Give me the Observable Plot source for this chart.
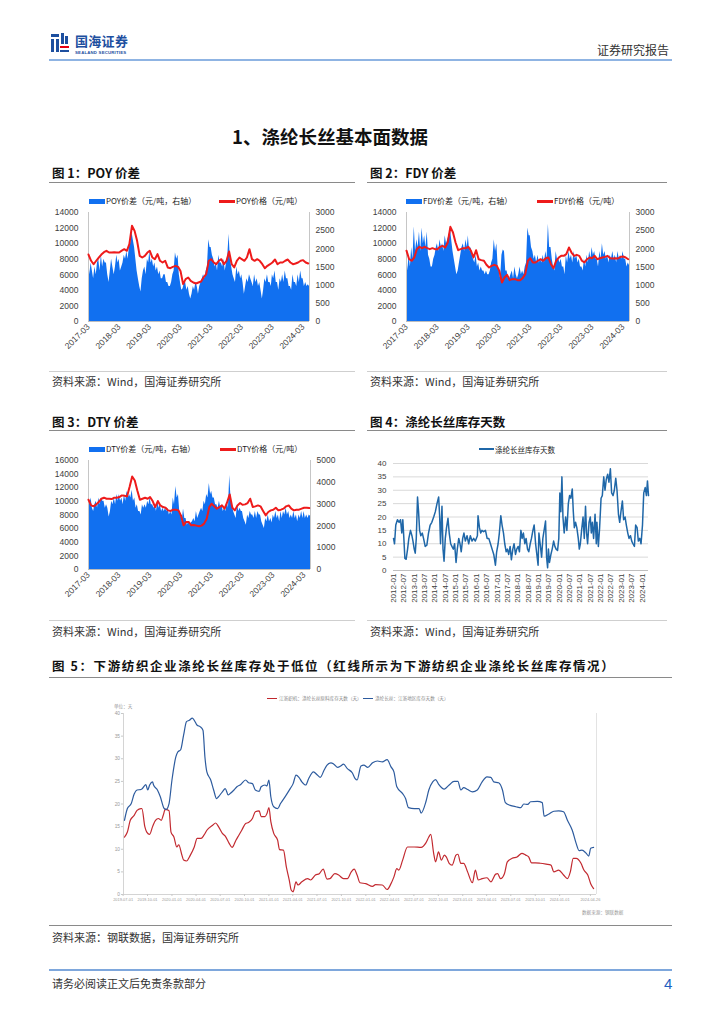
<!DOCTYPE html>
<html lang="zh-CN">
<head>
<meta charset="utf-8">
<script src="https://cdn.jsdelivr.net/npm/d3@7"></script>
<script src="https://cdn.jsdelivr.net/npm/@observablehq/plot@0.6"></script>
<style>
html,body{margin:0;padding:0;background:#fff;}
body{width:724px;height:1024px;position:relative;overflow:hidden;font-family:"Noto Sans CJK SC","Noto Sans",sans-serif;color:#222;}
.a{position:absolute;white-space:nowrap;line-height:1;}
.h{font-weight:700;font-size:12.5px;color:#111;}
.src{font-size:11px;color:#333;}
.box{position:absolute;}
.chart{position:absolute;}
</style>
</head>
<body>
<script>
// ================= DATA =================
const monthStart = "2017-03", monthEnd = "2024-05";
// POY spread, right axis (yuan/t), two readings per month
const poySpread = [
1930,1290, 1610,1390, 1180,1500, 1290,1610, 1710,1390, 1820,1500, 1710,1610, 1610,1290, 1070,1390, 1710,1500,
1290,1500, 1820,1610, 1710,1390, 1500,1610, 1820,1710, 1930,1710, 2040,2140, 2460,2250, 2040,1710, 1390,1180, 960,810, 1180,1390,
1500,1290, 1710,1610, 1930,1610, 1710,1500, 1610,1390, 1500,1290, 1390,1180, 1180,1290, 1290,1070, 1070,960, 960,1070, 1290,1390,
1890,1710, 1820,1290, 1070,860, 900,1070, 1070,860, 960,750, 620,750, 960,860, 1070,960, 750,960, 1070,1180, 1290,1180,
1390,1500, 2250,2040, 2040,1820, 1710,1500, 1610,1390, 1820,1610, 1610,1500, 1710,1390, 1610,1820, 2400,1710, 1500,1290, 1180,1070,
1500,1290, 1390,1180, 1290,1070, 750,960, 1180,1070, 1290,1180, 1070,960, 1290,1070, 1180,960, 1070,860, 620,860, 1180,1070,
1290,1070, 1070,960, 1290,1180, 1390,1070, 1070,860, 1180,1070, 1290,1070, 1390,1180, 1180,960, 960,860, 1290,1070, 1070,960,
1290,1070, 1390,1180, 1180,960, 1070,960, 1010,960
];
// POY price, left axis (yuan/t), monthly
const poyPrice = [
8600,7800,7350,7800,8200,8600,8900,9080,8860,8860,
8900,8860,8860,9100,9290,9080,9930,12290,11640,10360,8430,8220,
8430,8860,9080,8220,8000,8650,7800,7580,7800,6940,6850,7020,
7150,7020,6500,4800,5440,5650,5220,5010,4880,5010,5140,5650,
6080,7800,8000,7580,7360,7800,8000,7360,7800,8990,7360,6940,
7800,8220,8000,7800,8220,9290,8000,7800,8000,7800,7360,6850,
7150,7360,7580,7960,7360,7580,7580,7800,7960,7580,7360,7450,
7580,7800,7880,7580,7450
];
const fdySpread = [
2040,1390, 1820,1500, 2040,1710, 2610,1930, 2250,2040, 2460,1930, 2570,2140, 2360,2040, 2460,1820, 1710,1500,
1500,1710, 1820,2040, 2140,1930, 2250,2040, 2140,1930, 2360,2140, 2250,2360, 2570,2250, 1930,1710, 1500,1290, 1390,1610, 1820,2040,
2140,1930, 2250,2040, 2360,1930, 2040,1820, 1710,1610, 1820,1500, 1610,1390, 1500,1390, 1390,1290, 1390,1290, 1290,1390, 1610,1710,
2250,1930, 2140,1500, 1390,1180, 1820,1970, 1930,1390, 1390,1180, 1180,1290, 1390,1180, 1500,1290, 1180,1290, 1500,1290, 1390,1290,
1500,1610, 2570,2360, 2360,2040, 1930,1710, 1820,1610, 1820,1610, 1710,1610, 1820,1610, 1930,1710, 2680,2040, 2040,1710, 1500,1390,
1930,1710, 1710,1610, 1710,1500, 1500,1290, 1820,1610, 1930,1710, 1820,1610, 1930,1710, 1820,1610, 1710,1500, 1500,1390, 1710,1500,
1820,1610, 1930,1710, 2040,1820, 1930,1710, 1710,1500, 1930,1710, 2140,1820, 1930,1710, 1820,1610, 1820,1710, 1930,1710, 1820,1610,
1930,1710, 1820,1710, 1930,1710, 1710,1500, 1610,1540
];
const fdyPrice = [
9100,8000,7800,8220,9290,9590,9420,9590,9420,9290,
9420,9290,9290,9590,9720,9500,10150,12160,11430,10150,9160,9290,
9420,9420,9590,9080,8220,9160,8000,7880,7800,7280,6940,7150,
7280,7150,6500,5010,5650,5990,5310,5440,5440,5310,5310,5570,
6080,7800,8130,7580,7580,7800,8000,7800,8130,8220,7360,6850,
7800,8220,8430,8430,8650,9500,8860,8430,8560,8430,7800,7580,
8000,8220,8130,8430,8000,8130,8220,8300,8430,8130,8090,8130,
8090,8300,8350,8220,8000
];
const dtySpread = [
3440,2970, 3280,2810, 2660,2970, 3130,2810, 3280,2970, 3280,3130, 3130,2810, 2970,2810, 2410,2660, 3130,2970,
3280,2970, 3440,3130, 3440,3130, 3280,2970, 3440,3130, 3590,3280, 3440,3280, 3630,3130, 3280,2810, 2970,2660, 2660,2500, 2970,2810,
2970,2810, 3130,2970, 3280,2970, 2970,2810, 2970,2660, 3130,2810, 2970,2660, 2810,2660, 2810,2660, 2810,2500, 2660,2500, 3280,2970,
3810,3280, 3440,2660, 2500,2190, 2780,2340, 2340,2030, 2190,2030, 2130,2190, 2340,2190, 2660,2340, 2500,2660, 2810,2660, 3130,2970,
3440,3280, 3940,3440, 3590,3280, 3280,2970, 2970,2810, 3130,2810, 2970,2660, 2810,2660, 3130,2810, 4310,3280, 2970,2660, 2500,2340,
2970,2660, 2810,2660, 2660,2340, 2190,2030, 2500,2340, 2660,2500, 2500,2340, 2660,2340, 2660,2500, 2500,2190, 2030,1880, 2340,2190,
2500,2190, 2340,2130, 2500,2340, 2660,2340, 2500,2190, 2660,2340, 2660,2500, 2810,2500, 2660,2340, 2500,2340, 2660,2340, 2500,2190,
2500,2340, 2660,2340, 2660,2340, 2500,2340, 2500,2440
];
const dtyPrice = [
10240,9410,9270,9560,9900,10390,10540,10390,10390,10340,
10540,10540,10630,10880,10830,10730,12100,13660,13070,11610,10240,10390,
10540,10390,10630,10050,9170,10050,9410,9170,9070,8680,8590,8780,
8780,8680,7950,6490,6980,6980,6490,6540,6440,6340,6440,6730,
7460,9170,9660,9270,8930,9170,9410,8930,9900,11020,9070,8680,
9410,9760,9510,9560,9760,10390,9170,9270,9410,9270,8590,7950,
8440,8680,8780,9070,8680,8780,8930,9270,9410,8930,8680,8780,
8780,8930,9070,9070,9020
];
const priceTickLabels = ["2017-03","2018-03","2019-03","2020-03","2021-03","2022-03","2023-03","2024-03"];

// Figure 4: [decimal year, days]
const invSeries = [
[2012.00,12],[2012.05,10],[2012.11,17],[2012.19,19],[2012.27,18],[2012.34,19],[2012.40,14],[2012.45,19],[2012.50,12],[2012.55,4.5],
[2012.61,4.2],[2012.68,8],[2012.74,12],[2012.82,15],[2012.89,13],[2012.94,11],[2013.00,8],[2013.05,6.5],[2013.10,12],[2013.16,27.5],
[2013.21,22],[2013.26,15],[2013.32,13],[2013.39,14],[2013.45,12],[2013.53,9],[2013.61,9.5],[2013.69,14],[2013.77,17],[2013.85,18],
[2013.94,20],[2014.02,22],[2014.10,25],[2014.18,27.5],[2014.23,20],[2014.27,10],[2014.34,24],[2014.39,8],[2014.44,3.5],[2014.50,12],
[2014.56,16],[2014.63,19.5],[2014.69,14],[2014.76,10],[2014.82,9],[2014.89,8],[2014.95,10],[2015.02,3],[2015.08,8],[2015.15,12],
[2015.21,10],[2015.27,7],[2015.34,12],[2015.40,14],[2015.47,11],[2015.55,13],[2015.63,10],[2015.71,13],[2015.79,11],[2015.87,12],
[2015.95,11],[2016.05,13],[2016.08,20.5],[2016.15,16],[2016.21,14],[2016.27,15],[2016.35,14.5],[2016.44,15],[2016.52,12],[2016.60,12],
[2016.68,10],[2016.76,8],[2016.84,6],[2016.92,2],[2016.98,7],[2017.05,10],[2017.11,14],[2017.18,20.5],[2017.24,17],[2017.31,14],
[2017.37,10],[2017.44,7],[2017.50,8],[2017.56,6],[2017.63,9],[2017.69,4],[2017.76,8],[2017.82,10],[2017.89,6],[2017.95,8],
[2018.02,9],[2018.08,7],[2018.15,15],[2018.21,12],[2018.27,14],[2018.34,10],[2018.40,12],[2018.47,8],[2018.53,7],[2018.60,10],
[2018.66,12],[2018.73,15],[2018.79,17],[2018.86,10],[2018.92,6],[2018.98,2],[2019.02,14],[2019.08,10],[2019.15,5],[2019.21,12],
[2019.27,15],[2019.34,18.5],[2019.39,5],[2019.44,1],[2019.48,8],[2019.53,3],[2019.60,6],[2019.66,8],[2019.73,11],[2019.79,9],
[2019.85,8],[2019.92,7.5],[2019.98,12],[2020.03,29],[2020.08,22],[2020.13,35],[2020.18,20],[2020.24,14],[2020.31,20],[2020.37,15],
[2020.44,25],[2020.50,28],[2020.56,27],[2020.63,30.5],[2020.68,22],[2020.73,16],[2020.79,18],[2020.85,16],[2020.92,12],[2020.97,8],
[2021.02,10],[2021.08,15],[2021.15,20],[2021.21,12],[2021.27,24],[2021.32,14],[2021.37,10],[2021.44,18],[2021.50,20],[2021.55,14],
[2021.60,18],[2021.66,12],[2021.73,21],[2021.79,10],[2021.82,18],[2021.89,9],[2021.95,16],[2022.02,27],[2022.08,28],[2022.15,35],
[2022.21,30],[2022.27,34],[2022.34,36],[2022.40,33],[2022.47,38],[2022.53,29],[2022.60,28],[2022.66,30],[2022.73,34.5],[2022.79,30],
[2022.86,21],[2022.92,18],[2022.98,22],[2023.05,26],[2023.11,19],[2023.18,20],[2023.24,17],[2023.31,14],[2023.37,12],[2023.44,13],
[2023.50,11],[2023.56,10],[2023.63,9],[2023.69,17],[2023.76,16],[2023.82,11],[2023.89,12],[2023.95,10],[2024.02,17],[2024.08,29],
[2024.15,31],[2024.21,28],[2024.26,33.5],[2024.31,28]
];
const invTickLabels = ["2012-01","2012-07","2013-01","2013-07","2014-01","2014-07","2015-01","2015-07","2016-01","2016-07",
"2017-01","2017-07","2018-01","2018-07","2019-01","2019-07","2020-01","2020-07","2021-01","2021-07","2022-01","2022-07",
"2023-01","2023-07","2024-01"];

// Figure 5: [decimal year, days]
const weaverStock = [
[2019.51,12.7],[2019.54,13.8],[2019.57,16.4],[2019.61,17.5],[2019.64,18.6],[2019.68,19.0],[2019.69,19.0],[2019.72,15.0],[2019.74,13.8],[2019.77,13.3],
[2019.80,15.0],[2019.83,16.4],[2019.86,16.8],[2019.89,16.4],[2019.91,17.5],[2019.93,18.8],[2019.97,18.5],[2019.99,13.8],[2020.02,12.7],[2020.05,10.5],
[2020.07,11.0],[2020.10,8.9],[2020.12,7.6],[2020.15,7.4],[2020.19,8.7],[2020.23,10.5],[2020.26,12.4],[2020.30,12.4],[2020.33,13.1],[2020.36,14.2],
[2020.42,15.3],[2020.45,15.8],[2020.48,15.0],[2020.52,13.5],[2020.55,12.9],[2020.59,11.3],[2020.62,10.4],[2020.66,12.0],[2020.69,13.1],[2020.72,14.2],
[2020.76,15.7],[2020.79,15.9],[2020.83,16.8],[2020.86,18.3],[2020.90,18.5],[2020.92,17.2],[2020.96,17.2],[2020.98,17.9],[2021.00,19.2],[2021.02,16.1],
[2021.05,13.5],[2021.09,12.0],[2021.11,9.9],[2021.15,9.8],[2021.18,6.1],[2021.21,3.2],[2021.23,1.0],[2021.25,0.6],[2021.28,2.8],[2021.30,2.1],
[2021.34,2.8],[2021.40,3.5],[2021.43,3.2],[2021.48,4.3],[2021.52,4.6],[2021.56,5.6],[2021.60,3.4],[2021.63,3.5],[2021.68,4.6],[2021.72,4.3],
[2021.77,3.5],[2021.81,3.5],[2021.85,5.0],[2021.88,5.6],[2021.91,4.3],[2021.94,2.6],[2022.00,2.4],[2022.07,1.8],[2022.10,2.2],[2022.17,2.1],
[2022.22,1.1],[2022.26,2.4],[2022.29,3.9],[2022.32,5.7],[2022.34,5.4],[2022.38,7.6],[2022.43,10.5],[2022.50,10.5],[2022.57,10.4],[2022.62,11.4],
[2022.65,12.7],[2022.67,13.3],[2022.70,9.1],[2022.72,7.2],[2022.75,9.4],[2022.78,7.6],[2022.81,8.7],[2022.83,8.3],[2022.86,6.9],[2022.89,6.5],
[2022.93,8.7],[2022.95,8.9],[2022.98,6.9],[2023.01,6.9],[2023.05,5.0],[2023.10,2.6],[2023.13,5.4],[2023.16,3.2],[2023.20,3.5],[2023.25,3.7],
[2023.29,2.8],[2023.34,4.5],[2023.36,4.6],[2023.39,3.5],[2023.43,4.6],[2023.46,7.2],[2023.51,8.0],[2023.56,8.3],[2023.61,9.1],[2023.65,8.7],
[2023.68,8.3],[2023.71,7.0],[2023.75,7.0],[2023.80,6.9],[2023.86,6.7],[2023.91,6.5],[2023.94,5.0],[2023.99,5.4],[2024.04,4.3],[2024.08,3.5],
[2024.11,5.0],[2024.14,8.0],[2024.17,8.0],[2024.22,6.9],[2024.25,5.4],[2024.29,4.3],[2024.32,2.4],[2024.35,1.3]
];
const filamentStock = [
[2019.51,16.4],[2019.54,19.0],[2019.58,20.1],[2019.61,22.2],[2019.64,23.1],[2019.68,23.2],[2019.69,23.3],[2019.73,24.3],[2019.75,23.1],[2019.77,24.2],
[2019.80,24.9],[2019.81,24.2],[2019.85,23.1],[2019.88,21.6],[2019.92,19.0],[2019.94,18.8],[2019.97,20.1],[2020.00,25.3],[2020.04,30.4],[2020.06,31.5],
[2020.09,32.0],[2020.12,35.2],[2020.15,38.2],[2020.18,38.5],[2020.21,39.0],[2020.23,38.5],[2020.26,37.4],[2020.29,37.1],[2020.32,36.3],[2020.34,30.4],
[2020.36,27.1],[2020.40,25.3],[2020.43,23.1],[2020.46,21.2],[2020.48,21.6],[2020.52,22.7],[2020.55,23.4],[2020.58,22.0],[2020.60,22.3],[2020.64,23.1],
[2020.67,23.8],[2020.71,24.3],[2020.76,25.3],[2020.79,24.7],[2020.83,24.5],[2020.86,23.1],[2020.90,22.8],[2020.92,23.8],[2020.96,24.2],[2020.98,24.0],
[2021.00,25.3],[2021.02,21.6],[2021.05,19.4],[2021.09,19.0],[2021.12,20.1],[2021.17,21.7],[2021.22,23.4],[2021.25,24.5],[2021.28,26.4],[2021.31,25.9],
[2021.34,24.9],[2021.38,24.2],[2021.41,25.6],[2021.46,27.1],[2021.50,26.4],[2021.53,25.9],[2021.57,27.5],[2021.60,28.6],[2021.64,29.1],[2021.67,28.8],
[2021.71,28.1],[2021.74,28.4],[2021.77,28.8],[2021.81,27.8],[2021.86,26.9],[2021.89,25.6],[2021.91,25.3],[2021.95,28.4],[2021.98,28.6],[2022.02,28.1],
[2022.07,29.1],[2022.12,29.5],[2022.17,29.3],[2022.22,29.8],[2022.26,28.2],[2022.29,27.1],[2022.32,23.8],[2022.38,22.3],[2022.41,21.2],[2022.44,19.2],
[2022.50,19.0],[2022.55,19.0],[2022.57,18.0],[2022.62,20.5],[2022.65,23.1],[2022.69,24.9],[2022.72,25.4],[2022.75,24.4],[2022.81,23.3],[2022.86,24.2],
[2022.91,25.0],[2022.95,25.0],[2022.98,23.1],[2023.01,23.6],[2023.05,23.2],[2023.10,22.7],[2023.15,23.1],[2023.20,24.9],[2023.25,26.0],[2023.29,25.9],
[2023.32,24.9],[2023.37,24.7],[2023.41,23.1],[2023.44,20.3],[2023.49,19.7],[2023.55,19.4],[2023.60,19.2],[2023.63,20.0],[2023.67,19.9],[2023.70,20.5],
[2023.77,20.6],[2023.82,20.3],[2023.84,17.3],[2023.89,17.8],[2023.94,18.4],[2023.99,18.5],[2024.04,18.3],[2024.08,16.4],[2024.13,14.2],[2024.17,11.3],
[2024.20,9.7],[2024.23,9.8],[2024.27,9.2],[2024.30,8.5],[2024.32,10.2],[2024.35,10.4]
];
const stockTickLabels = ["2019-07-01","2019-10-01","2020-01-01","2020-04-01","2020-07-01","2020-10-01","2021-01-01","2021-04-01",
"2021-07-01","2021-10-01","2022-01-01","2022-04-01","2022-07-01","2022-10-01","2023-01-01","2023-04-01","2023-07-01",
"2023-10-01","2024-01-01","2024-04-26"];
const stockLegend = ["江浙织机：涤纶长丝原料库存天数（天）", "涤纶长丝：江浙地区库存天数（天）"];

// ================= HELPERS =================
function box(left, top, w, h, bg) {
  const d = document.createElement("div");
  d.className = "box";
  Object.assign(d.style, {left: left + "px", top: top + "px", width: w + "px", height: h + "px", background: bg});
  document.body.appendChild(d);
  return d;
}
function text(s, left, top, cls, css) {
  const d = document.createElement("div");
  d.className = "a " + (cls || "");
  d.textContent = s;
  Object.assign(d.style, {left: left + "px", top: top + "px"}, css || {});
  document.body.appendChild(d);
  return d;
}
function place(svg, left, top) {
  const wrap = document.createElement("div");
  wrap.className = "chart";
  wrap.style.left = left + "px";
  wrap.style.top = top + "px";
  wrap.appendChild(svg);
  document.body.appendChild(wrap);
}
function decYear(s) {
  const d = d3.utcParse("%Y-%m-%d")(s);
  const y = d.getUTCFullYear();
  const a = Date.UTC(y, 0, 1), b = Date.UTC(y + 1, 0, 1);
  return y + (d - a) / (b - a);
}

const parseMonth = d3.utcParse("%Y-%m");
const months = d3.utcMonth.range(parseMonth(monthStart), d3.utcMonth.offset(parseMonth(monthEnd), 1));
const halfMonths = months.flatMap(m => [m, d3.utcDay.offset(m, 15)]);
const xDomain = [months[0], halfMonths[halfMonths.length - 1]];

const axisFont = "'Liberation Sans', Arial, sans-serif";

function priceChart(spread, price, leftMax, leftStep, rightMax, rightStep, o) {
  const k = leftMax / rightMax;
  const sp = halfMonths.map((d, i) => ({date: d, v: spread[i]}));
  const pr = months.map((d, i) => ({date: d, v: price[i]}));
  return Plot.plot({
    width: o.width, height: o.height,
    marginLeft: o.ml, marginRight: o.mr, marginTop: o.mt, marginBottom: o.mb,
    style: {fontFamily: axisFont, fontSize: "8.5px", color: "#404040", background: "transparent", overflow: "visible"},
    x: {type: "utc", domain: xDomain},
    y: {domain: [0, leftMax]},
    marks: [
      Plot.areaY(sp, {x: "date", y: d => d.v * k, fill: "#1170f0"}),
      Plot.ruleY([0], {stroke: "#bdbdbd"}),
      Plot.ruleX(xDomain, {stroke: "#c6c6c6"}),
      Plot.lineY(pr, {x: "date", y: "v", stroke: "#ee1b1b", strokeWidth: 2}),
      Plot.axisY(d3.range(0, leftMax + 1, leftStep), {anchor: "left", tickSize: 0, tickPadding: 10, tickFormat: d => String(d), label: null}),
      Plot.axisY(d3.range(0, rightMax + 1, rightStep).map(v => v * k), {anchor: "right", tickSize: 0, tickPadding: 6, tickFormat: d => String(Math.round(d / k)), label: null}),
      Plot.axisX(priceTickLabels.map(parseMonth), {anchor: "bottom", tickSize: 0, tickPadding: 4, tickRotate: -45, tickFormat: d3.utcFormat("%Y-%m"), label: null})
    ]
  });
}

// ================= HEADER =================
box(51, 34, 8, 3, "#1d4f9f");
box(51, 39, 3, 13, "#1d4f9f");
box(55.5, 39, 3, 13, "#1d4f9f");
box(61, 33, 3, 11, "#1d4f9f");
box(65, 36, 3, 8, "#1d4f9f");
box(60, 46, 9, 2.2, "#e60012");
box(60, 49.5, 9, 2.5, "#1d4f9f");
text("国海证券", 75, 34, "", {fontSize: "13px", fontWeight: "700", color: "#1d4f9f", letterSpacing: "0.3px"});
text("SEALAND SECURITIES", 75, 50.5, "", {fontSize: "4.3px", fontWeight: "700", color: "#1d4f9f", fontFamily: axisFont, letterSpacing: "0.2px"});
text("证券研究报告", 597, 44, "", {fontSize: "12px", color: "#333"});
box(49, 59, 623, 2, "#8fb4e3");

text("1、涤纶长丝基本面数据", 232, 127, "", {fontSize: "18.5px", fontWeight: "700", color: "#111"});

// ================= FIG 1 & 2 =================
text("图 1：POY 价差", 52, 167, "h");
box(49, 182, 306, 1, "#8a8a8a");
text("图 2：FDY 价差", 370, 167, "h");
box(367, 182, 300, 1, "#8a8a8a");

box(89, 198.5, 16, 5, "#1170f0");
text("POY价差（元/吨，右轴）", 106, 197, "", {fontSize: "8px"});
box(219, 200, 16, 2.5, "#ee1b1b");
text("POY价格（元/吨）", 236, 197, "", {fontSize: "8px"});
box(406, 198.5, 16, 5, "#1170f0");
text("FDY价差（元/吨，右轴）", 423, 197, "", {fontSize: "8px"});
box(537, 200, 16, 2.5, "#ee1b1b");
text("FDY价格（元/吨）", 554, 197, "", {fontSize: "8px"});

place(priceChart(poySpread, poyPrice, 14000, 2000, 3000, 500, {width: 320, height: 167, ml: 48, mr: 51, mt: 22, mb: 36}), 40, 190);
place(priceChart(fdySpread, fdyPrice, 14000, 2000, 3000, 500, {width: 320, height: 167, ml: 46, mr: 51, mt: 22, mb: 36}), 360, 190);

box(49, 371, 306, 1, "#cfcfcf");
box(367, 371, 300, 1, "#cfcfcf");
text("资料来源：Wind，国海证券研究所", 52, 375.5, "src");
text("资料来源：Wind，国海证券研究所", 370, 375.5, "src");

// ================= FIG 3 & 4 =================
text("图 3：DTY 价差", 52, 416, "h");
box(49, 430, 306, 1, "#8a8a8a");
text("图 4：涤纶长丝库存天数", 370, 416, "h");
box(367, 430, 300, 1, "#8a8a8a");

box(89, 446.5, 16, 5, "#1170f0");
text("DTY价差（元/吨，右轴）", 106, 445, "", {fontSize: "8px"});
box(220, 448, 16, 2.5, "#ee1b1b");
text("DTY价格（元/吨）", 237, 445, "", {fontSize: "8px"});

place(priceChart(dtySpread, dtyPrice, 16000, 2000, 5000, 1000, {width: 320, height: 165, ml: 48, mr: 50, mt: 20, mb: 36}), 40, 440);

box(479, 447.5, 15, 2.5, "#1f67a8");
text("涤纶长丝库存天数", 495, 445.5, "", {fontSize: "7.5px"});

{
  const tickVals = invTickLabels.map(s => decYear(s + "-01"));
  const lab = new Map(tickVals.map((v, i) => [v, invTickLabels[i]]));
  const svg = Plot.plot({
    width: 320, height: 166, marginLeft: 33, marginRight: 32, marginTop: 23, marginBottom: 36,
    style: {fontFamily: axisFont, fontSize: "8px", color: "#404040", background: "transparent", overflow: "visible"},
    x: {domain: [2012, 2024.31]},
    y: {domain: [0, 40]},
    marks: [
      Plot.gridY(d3.range(5, 41, 5), {stroke: "#d9d9d9", strokeOpacity: 1}),
      Plot.ruleY([0], {stroke: "#bfbfbf"}),
      Plot.line(invSeries, {x: d => d[0], y: d => d[1], stroke: "#1f67a8", strokeWidth: 1.5}),
      Plot.axisY(d3.range(0, 41, 5), {anchor: "left", tickSize: 0, tickPadding: 7, label: null}),
      Plot.axisX(tickVals, {anchor: "bottom", tickSize: 0, tickPadding: 3, tickRotate: -90, tickFormat: d => lab.get(d), label: null})
    ]
  });
  place(svg, 360, 440);
}

box(49, 620, 306, 1, "#cfcfcf");
box(367, 620, 300, 1, "#cfcfcf");
text("资料来源：Wind，国海证券研究所", 52, 625.5, "src");
text("资料来源：Wind，国海证券研究所", 370, 625.5, "src");

// ================= FIG 5 =================
text("图 5：下游纺织企业涤纶长丝库存处于低位（红线所示为下游纺织企业涤纶长丝库存情况）", 52, 660, "h", {letterSpacing: "1.6px"});
box(49, 677, 623, 1, "#8a8a8a");

box(267, 697.5, 10, 1.3, "#c0272d");
text(stockLegend[0], 279, 695.5, "", {fontSize: "4.6px", color: "#8a8a8a"});
box(363, 697.5, 10, 1.3, "#2d5b9e");
text(stockLegend[1], 375, 695.5, "", {fontSize: "4.6px", color: "#8a8a8a"});
text("单位：天", 114, 704, "", {fontSize: "4.6px", color: "#9a9a9a"});

{
  const tickVals = stockTickLabels.map(decYear);
  const lab = new Map(tickVals.map((v, i) => [v, stockTickLabels[i]]));
  const svg = Plot.plot({
    width: 640, height: 211, marginLeft: 83, marginRight: 84, marginTop: 10, marginBottom: 20,
    style: {fontFamily: axisFont, fontSize: "4.8px", color: "#9a9a9a", background: "transparent", overflow: "visible"},
    x: {domain: [2019.5, 2024.38]},
    y: {domain: [0, 40]},
    marks: [
      Plot.ruleX([2019.5], {stroke: "#d4d4d4"}),
      Plot.ruleX([2024.38], {stroke: "#e3e3e3"}),
      Plot.ruleY([0], {stroke: "#d4d4d4"}),
      Plot.line(weaverStock, {x: d => d[0], y: d => d[1], stroke: "#c22a30", strokeWidth: 1.2, curve: "monotone-x"}),
      Plot.line(filamentStock, {x: d => d[0], y: d => d[1], stroke: "#2d5b9e", strokeWidth: 1.2, curve: "monotone-x"}),
      Plot.axisY(d3.range(0, 41, 5), {anchor: "left", tickSize: 2, tickPadding: 1.5, stroke: "#c8c8c8", label: null}),
      Plot.axisX(tickVals, {anchor: "bottom", tickSize: 2, tickPadding: 1.5, stroke: "#c8c8c8", fontSize: 3.9, tickFormat: d => lab.get(d), label: null})
    ]
  });
  place(svg, 40, 703);
}
text("数据来源：钢联数据", 582, 910, "", {fontSize: "4.6px", color: "#9a9a9a"});

box(49, 925, 623, 1, "#8a8a8a");
text("资料来源：钢联数据，国海证券研究所", 52, 931.5, "src");

// ================= FOOTER =================
box(49, 969, 623, 1.5, "#7ea7dc");
text("请务必阅读正文后免责条款部分", 52, 977.5, "", {fontSize: "11px", color: "#333"});
text("4", 664, 975.5, "", {fontSize: "15px", color: "#1f5fbf", fontFamily: axisFont});
</script>
</body>
</html>
